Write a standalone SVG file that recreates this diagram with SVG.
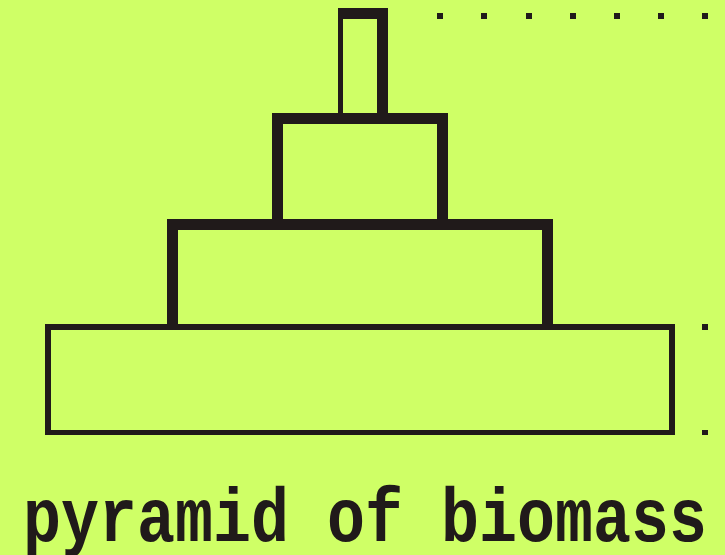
<svg xmlns="http://www.w3.org/2000/svg" width="725" height="555" viewBox="0 0 725 555">
<style>
.ink{fill:#201a1a;fill-rule:evenodd}
.dot{fill:#201a1a}
.title{font-family:"Liberation Mono","DejaVu Sans Mono",monospace;font-weight:bold;font-size:76px;fill:#201a1a}
</style>
<rect width="725" height="555" fill="#cfff66"/>
<g id="level-4">
<path class="ink" d="M338,8H388V113H338Z M343,19V113H377V19Z"/>
</g>
<g id="level-3">
<path class="ink" d="M272,113H448V219H272Z M283,124V219H437V124Z"/>
</g>
<g id="level-2">
<path class="ink" d="M167,219H553V324H167Z M178,230V324H542V230Z"/>
</g>
<g id="level-1">
<path class="ink" d="M45,324H675V435H45Z M51,330V430H669V330Z"/>
</g>
<g id="connectors"></g>
<g id="dots">
<rect class="dot" x="437" y="13" width="6" height="6"/>
<rect class="dot" x="481" y="13" width="6" height="6"/>
<rect class="dot" x="526" y="13" width="6" height="6"/>
<rect class="dot" x="570" y="13" width="6" height="6"/>
<rect class="dot" x="614" y="13" width="6" height="6"/>
<rect class="dot" x="658" y="13" width="6" height="6"/>
<rect class="dot" x="702" y="13" width="6" height="6"/>
<rect class="dot" x="702" y="324" width="6" height="6"/>
<rect class="dot" x="702" y="430" width="6" height="5"/>
</g>
<text class="title" x="23" y="541" textLength="684" lengthAdjust="spacingAndGlyphs">pyramid of biomass</text>
</svg>
